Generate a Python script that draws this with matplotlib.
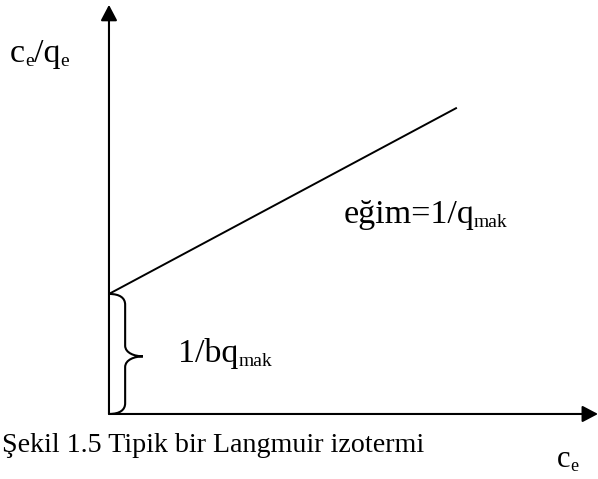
import matplotlib
matplotlib.use("Agg")
import matplotlib.pyplot as plt
from matplotlib.path import Path
from matplotlib.patches import PathPatch

plt.rcParams['font.family'] = ['Liberation Serif', 'DejaVu Serif']

# Linearised Langmuir isotherm: c_e/q_e = 1/(b q_mak) + c_e / q_mak
ce = [0.0, 7.10]
ce_qe = [2.45, 6.25]
intercept = ce_qe[0]

x_axis_end = 9.98
y_axis_end = 8.35

# label pieces: (text, is_subscript)
ylabel = [('c', False), ('e', True), ('/q', False), ('e', True)]
xlabel = [('c', False), ('e', True)]
slope_label = [('eğim=1/q', False), ('mak', True)]
intercept_label = [('1/bq', False), ('mak', True)]
caption = 'Şekil 1.5 Tipik bir Langmuir izotermi'

fig = plt.figure(figsize=(5.98, 4.79), dpi=100)
ax = fig.add_axes([0, 0, 1, 1])
ax.set_xlim(-2.224, 9.98)
ax.set_ylim(-1.327, 8.449)
ax.axis('off')

arrow = dict(arrowstyle='-|>,head_length=0.95,head_width=0.5',
             mutation_scale=10, lw=1.5, color='black',
             shrinkA=0, shrinkB=0)
ax.annotate('', xy=(0, y_axis_end), xytext=(0, 0), arrowprops=arrow)
ax.annotate('', xy=(x_axis_end, 0), xytext=(0, 0), arrowprops=arrow)

ax.plot(ce, ce_qe, color='black', lw=1.4, solid_capstyle='butt')

# curly brace marking the intercept
w = 0.33
r = 0.22
ym = 0.48 * intercept
verts = [
    (0, intercept),
    (0.7 * w, intercept), (w, intercept - 0.4 * r), (w, intercept - r),
    (w, ym + r),
    (w, ym + 0.3 * r), (1.6 * w, ym), (2.1 * w, ym),
    (1.6 * w, ym), (w, ym - 0.3 * r), (w, ym - r),
    (w, r),
    (w, 0.4 * r), (0.7 * w, 0), (0, 0),
]
codes = ([Path.MOVETO] + [Path.CURVE4] * 3 + [Path.LINETO]
         + [Path.CURVE4] * 6 + [Path.LINETO] + [Path.CURVE4] * 3)
ax.add_patch(PathPatch(Path(verts, codes), fill=False, lw=1.5,
                       edgecolor='black'))


def label(x, y, pieces, size=24.5, subsize=14, drop=3.0):
    "Chain text pieces on one baseline, with small lowered subscripts."
    prev = None
    for s, sub in pieces:
        fs = subsize if sub else size
        dy = -drop if sub else 0
        if prev is None:
            prev = ax.annotate(s, xy=(x, y), xytext=(0, dy),
                               textcoords='offset points', fontsize=fs,
                               va='baseline', ha='left')
        else:
            prev = ax.annotate(s, xy=(1, y), xycoords=(prev, 'data'),
                               xytext=(0, dy), textcoords='offset points',
                               fontsize=fs, va='baseline', ha='left')


label(-2.02, 7.18, ylabel)
label(9.14, -1.08, xlabel, size=22, subsize=13)
label(4.78, 3.90, slope_label)
label(1.41, 1.06, intercept_label)
ax.text(-2.18, -0.78, caption, fontsize=20.2, va='baseline', ha='left')

fig.savefig('out.png', dpi=100)
